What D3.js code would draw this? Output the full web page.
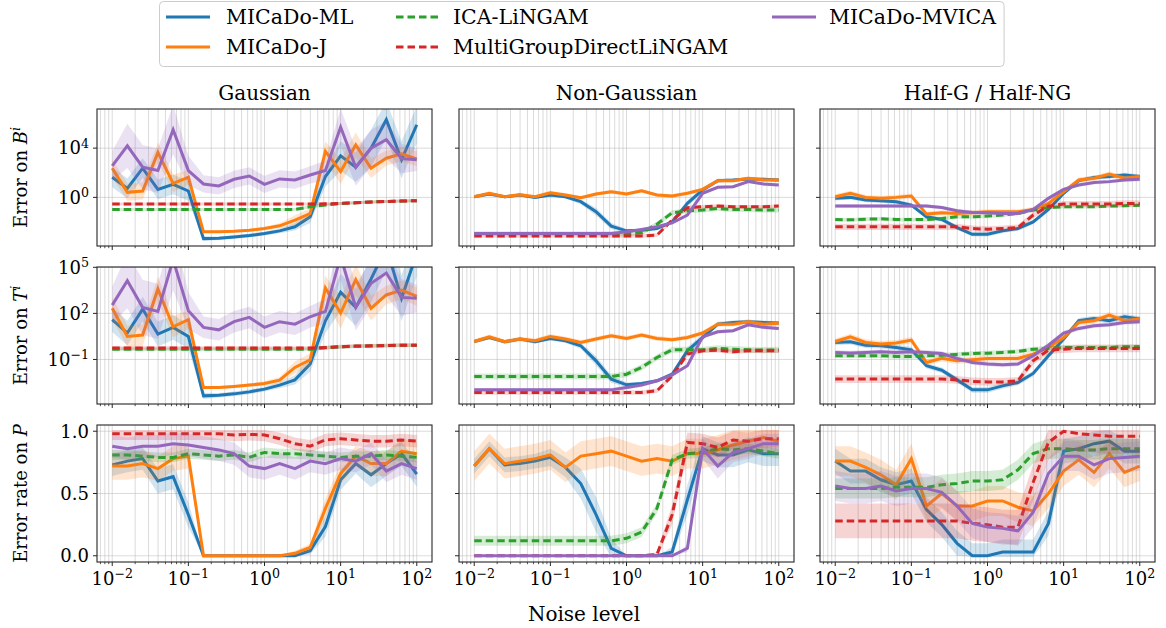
<!DOCTYPE html>
<html lang="en">
<head>
<meta charset="utf-8">
<title>Noise level sweep</title>
<script src="https://cdn.jsdelivr.net/npm/d3@7"></script>
<style>
  body { margin: 0; background: #fff; }
  svg { font-family: "DejaVu Serif", serif; }
</style>
</head>
<body>
<svg width="1166" height="628"></svg>
<script>
// noise levels (x), 21 points log-spaced from 1e-2 to 1e2
const noise = [0.01, 0.0158, 0.0251, 0.0398, 0.0631, 0.1, 0.158, 0.251, 0.398, 0.631, 1,
               1.58, 2.51, 3.98, 6.31, 10, 15.8, 25.1, 39.8, 63.1, 100];

const seriesKeys = ['ml', 'j', 'ica', 'mg', 'mvica'];
const seriesNames = ['MICaDo-ML', 'MICaDo-J', 'ICA-LiNGAM', 'MultiGroupDirectLiNGAM', 'MICaDo-MVICA'];
const colTitles = ['Gaussian', 'Non-Gaussian', 'Half-G / Half-NG'];

// ---- row 1 : error on B^i (log10 values) ----
const gaussB_ml = [1.63, 0.73, 2.37, 0.65, 1.06, 0.52, -3.35, -3.32, -3.21, -3.10, -2.94, -2.72, -2.39, -1.58, 1.69, 3.37, 2.45, 4.0, 6.31, 3.05, 5.9];
const gaussB_j = [2.37, 0.41, 0.52, 3.65, 1.14, 1.63, -2.80, -2.80, -2.75, -2.67, -2.53, -2.31, -1.85, -1.31, 3.73, 2.10, 4.27, 2.37, 3.18, 3.54, 3.13];
const gaussB_ica = [-0.98, -0.98, -0.98, -0.98, -0.98, -0.98, -0.98, -0.98, -0.98, -0.98, -0.98, -0.98, -0.98, -0.76, -0.62, -0.50, -0.44, -0.38, -0.33, -0.30, -0.27];
const gaussB_mg = [-0.54, -0.54, -0.54, -0.54, -0.54, -0.54, -0.54, -0.54, -0.54, -0.54, -0.54, -0.54, -0.54, -0.54, -0.52, -0.49, -0.44, -0.38, -0.33, -0.30, -0.27];
const gaussB_mvica = [2.56, 4.19, 2.45, 2.18, 5.50, 2.18, 1.09, 0.93, 1.47, 1.74, 1.06, 1.50, 1.41, 1.82, 2.18, 5.71, 2.45, 4.0, 4.68, 3.16, 3.05];

const ngB_ml = [0.05, 0.27, 0.05, 0.19, 0.0, 0.19, 0.05, -0.35, -1.17, -2.34, -2.72, -2.67, -2.53, -1.99, -0.49, 0.6, 1.36, 1.41, 1.50, 1.47, 1.41];
const ngB_j = [0.05, 0.33, 0.05, 0.22, 0.05, 0.38, 0.19, -0.03, 0.27, 0.46, 0.27, 0.54, 0.19, 0.11, 0.33, 0.65, 1.36, 1.36, 1.55, 1.41, 1.41];
const ngB_ica = [-2.96, -2.96, -2.96, -2.96, -2.96, -2.96, -2.96, -2.96, -2.96, -2.96, -2.96, -2.88, -2.18, -1.25, -1.09, -1.03, -0.90, -0.98, -0.98, -1.03, -1.03];
const ngB_mg = [-3.13, -3.13, -3.13, -3.13, -3.13, -3.13, -3.13, -3.13, -3.13, -3.13, -3.13, -3.13, -3.07, -1.85, -0.84, -0.76, -0.71, -0.76, -0.76, -0.76, -0.71];
const ngB_mvica = [-2.94, -2.94, -2.94, -2.94, -2.94, -2.94, -2.94, -2.94, -2.94, -2.94, -2.80, -2.61, -2.39, -2.07, -1.44, 0.33, 0.82, 0.87, 1.28, 1.09, 1.01];

const hgB_ml = [-0.08, 0, -0.22, -0.27, -0.35, -0.63, -1.58, -1.80, -2.45, -3.0, -3.0, -2.72, -2.53, -1.99, -0.98, 0.33, 1.36, 1.61, 1.69, 1.82, 1.69];
const hgB_j = [0.05, 0.33, 0, -0.08, 0, 0.11, -1.36, -1.25, -1.31, -1.25, -1.17, -1.17, -1.17, -0.98, -0.49, 0.46, 1.41, 1.55, 1.90, 1.55, 1.69];
const hgB_ica = [-1.80, -1.82, -1.77, -1.74, -1.80, -1.80, -1.80, -1.71, -1.58, -1.58, -1.52, -1.44, -1.31, -1.03, -0.82, -0.76, -0.76, -0.76, -0.71, -0.68, -0.63];
const hgB_mg = [-2.39, -2.39, -2.39, -2.39, -2.39, -2.39, -2.39, -2.39, -2.39, -2.53, -2.59, -2.53, -2.45, -1.44, -0.71, -0.54, -0.54, -0.54, -0.54, -0.49, -0.49];
const hgB_mvica = [-0.71, -0.71, -0.71, -0.71, -0.71, -0.71, -0.71, -0.82, -1.09, -1.22, -1.25, -1.31, -1.31, -0.98, -0.08, 0.65, 1.01, 1.20, 1.28, 1.41, 1.47];

// ---- row 2 : error on T^i (log10 values) ----
const gaussT_ml = [1.59, 0.72, 2.28, 0.65, 1.09, 0.5, -3.37, -3.33, -3.24, -3.11, -2.93, -2.67, -2.33, -1.30, 1.52, 3.37, 2.39, 4.24, 6.3, 2.98, 5.9];
const gaussT_j = [2.33, 0.5, 0.59, 3.59, 1.13, 1.59, -2.83, -2.83, -2.76, -2.67, -2.57, -2.35, -1.52, -1.02, 3.65, 2.02, 4.2, 2.33, 3.2, 3.52, 3.1];
const gaussT_ica = [-0.33, -0.33, -0.33, -0.33, -0.33, -0.33, -0.33, -0.33, -0.33, -0.33, -0.33, -0.33, -0.33, -0.33, -0.24, -0.18, -0.14, -0.12, -0.10, -0.08, -0.08];
const gaussT_mg = [-0.26, -0.26, -0.26, -0.26, -0.26, -0.26, -0.26, -0.26, -0.26, -0.26, -0.26, -0.26, -0.26, -0.26, -0.22, -0.17, -0.13, -0.11, -0.09, -0.07, -0.07];
const gaussT_mvica = [2.54, 4.13, 2.39, 2.13, 5.5, 2.17, 1.09, 0.93, 1.46, 1.74, 1.09, 1.46, 1.30, 1.78, 2.13, 5.7, 2.39, 3.96, 4.63, 3.04, 2.98];

const ngT_ml = [0.17, 0.43, 0.15, 0.33, 0.15, 0.37, 0.22, -0.11, -1.09, -2.28, -2.65, -2.57, -2.39, -1.96, -0.43, 0.43, 1.30, 1.41, 1.46, 1.41, 1.37];
const ngT_j = [0.17, 0.48, 0.15, 0.33, 0.22, 0.5, 0.33, 0.11, 0.33, 0.54, 0.37, 0.59, 0.37, 0.28, 0.43, 0.72, 1.30, 1.30, 1.46, 1.30, 1.35];
const ngT_ica = [-2.11, -2.11, -2.11, -2.11, -2.11, -2.11, -2.11, -2.11, -2.11, -2.11, -1.96, -1.52, -0.87, -0.37, -0.37, -0.37, -0.28, -0.33, -0.37, -0.39, -0.37];
const ngT_mg = [-3.15, -3.15, -3.15, -3.15, -3.15, -3.15, -3.15, -3.15, -3.15, -3.15, -3.15, -3.15, -3.04, -2.07, -0.65, -0.43, -0.39, -0.5, -0.43, -0.43, -0.43];
const ngT_mvica = [-2.98, -2.98, -2.98, -2.98, -2.98, -2.98, -2.98, -2.98, -2.98, -2.98, -2.83, -2.67, -2.39, -2.0, -1.41, 0.48, 0.80, 0.87, 1.26, 1.09, 1.02];

const hgT_ml = [0.11, 0.15, -0.07, -0.11, -0.22, -0.37, -1.41, -1.70, -2.33, -2.98, -2.98, -2.72, -2.5, -1.91, -0.76, 0.33, 1.52, 1.67, 1.52, 1.78, 1.63];
const hgT_j = [0.17, 0.48, 0.11, 0.0, 0.07, 0.26, -1.20, -0.93, -1.09, -1.02, -0.93, -0.93, -0.93, -0.65, -0.22, 0.43, 1.41, 1.52, 1.89, 1.52, 1.63];
const hgT_ica = [-0.76, -0.76, -0.76, -0.76, -0.80, -0.80, -0.76, -0.72, -0.67, -0.61, -0.59, -0.54, -0.48, -0.33, -0.28, -0.22, -0.22, -0.22, -0.22, -0.17, -0.17];
const hgT_mg = [-2.28, -2.28, -2.28, -2.28, -2.28, -2.28, -2.28, -2.28, -2.33, -2.43, -2.46, -2.46, -2.39, -1.09, -0.39, -0.33, -0.28, -0.28, -0.28, -0.28, -0.28];
const hgT_mvica = [-0.54, -0.58, -0.54, -0.5, -0.54, -0.5, -0.54, -0.61, -0.93, -1.20, -1.30, -1.35, -1.30, -0.76, -0.07, 0.72, 1.02, 1.20, 1.26, 1.41, 1.46];

// ---- row 3 : error rate on P ----
const gaussP_ml = [0.73, 0.76, 0.78, 0.60, 0.635, 0.33, 0, 0, 0, 0, 0, 0, 0, 0.04, 0.235, 0.61, 0.74, 0.65, 0.74, 0.82, 0.655];
const gaussP_j = [0.72, 0.72, 0.74, 0.70, 0.78, 0.80, 0, 0, 0, 0, 0, 0, 0.02, 0.067, 0.38, 0.66, 0.80, 0.74, 0.74, 0.84, 0.82];
const gaussP_ica = [0.81, 0.81, 0.80, 0.79, 0.79, 0.82, 0.81, 0.80, 0.81, 0.79, 0.83, 0.82, 0.82, 0.81, 0.80, 0.79, 0.80, 0.80, 0.81, 0.80, 0.79];
const gaussP_mg = [0.98, 0.98, 0.98, 0.98, 0.98, 0.98, 0.98, 0.98, 0.97, 0.975, 0.97, 0.94, 0.90, 0.88, 0.93, 0.94, 0.93, 0.92, 0.92, 0.93, 0.92];
const gaussP_mvica = [0.88, 0.86, 0.88, 0.88, 0.90, 0.89, 0.87, 0.85, 0.82, 0.72, 0.70, 0.74, 0.70, 0.76, 0.74, 0.78, 0.76, 0.82, 0.68, 0.74, 0.70];

const ngP_ml = [0.72, 0.86, 0.73, 0.74, 0.76, 0.79, 0.71, 0.58, 0.33, 0.06, 0, 0, 0, 0.03, 0.45, 0.86, 0.81, 0.81, 0.85, 0.82, 0.82];
const ngP_j = [0.72, 0.86, 0.74, 0.76, 0.78, 0.81, 0.71, 0.80, 0.82, 0.84, 0.80, 0.76, 0.78, 0.76, 0.82, 0.82, 0.85, 0.89, 0.92, 0.95, 0.92];
const ngP_ica = [0.12, 0.12, 0.12, 0.12, 0.12, 0.12, 0.12, 0.12, 0.12, 0.12, 0.14, 0.19, 0.38, 0.77, 0.82, 0.83, 0.86, 0.85, 0.86, 0.84, 0.82];
const ngP_mg = [0, 0, 0, 0, 0, 0, 0, 0, 0, 0, 0, 0, 0.01, 0.33, 0.91, 0.90, 0.87, 0.93, 0.92, 0.94, 0.94];
const ngP_mvica = [0, 0, 0, 0, 0, 0, 0, 0, 0, 0, 0, 0, 0, 0, 0.06, 0.86, 0.72, 0.83, 0.86, 0.90, 0.90];

const hgP_ml = [0.76, 0.68, 0.68, 0.61, 0.57, 0.60, 0.37, 0.25, 0.10, 0, 0, 0.03, 0.03, 0.03, 0.26, 0.84, 0.86, 0.90, 0.92, 0.84, 0.84];
const hgP_j = [0.76, 0.76, 0.71, 0.65, 0.57, 0.78, 0.40, 0.50, 0.40, 0.40, 0.44, 0.44, 0.39, 0.36, 0.50, 0.68, 0.77, 0.67, 0.82, 0.67, 0.72];
const hgP_ica = [0.54, 0.54, 0.54, 0.54, 0.55, 0.55, 0.55, 0.57, 0.58, 0.60, 0.60, 0.61, 0.69, 0.82, 0.86, 0.86, 0.85, 0.85, 0.86, 0.86, 0.86];
const hgP_mg = [0.28, 0.28, 0.28, 0.28, 0.28, 0.28, 0.28, 0.28, 0.28, 0.26, 0.25, 0.23, 0.23, 0.59, 0.91, 1.0, 0.98, 0.97, 0.96, 0.96, 0.96];
const hgP_mvica = [0.56, 0.54, 0.54, 0.56, 0.52, 0.54, 0.54, 0.51, 0.40, 0.26, 0.23, 0.22, 0.20, 0.35, 0.66, 0.80, 0.80, 0.73, 0.78, 0.79, 0.80];

// ---- shaded band half-widths (log10 decades for rows 1-2, absolute for row 3) ----
const gaussSpreadLog = {
  ml: [0.8, 0.8, 0.8, 0.8, 0.8, 0.8, 0.2, 0.15, 0.15, 0.15, 0.15, 0.2, 0.3, 0.5, 0.8, 1.2, 1.2, 1.5, 1.5, 1.5, 1.5],
  j: [0.7, 0.7, 0.7, 0.8, 0.7, 0.6, 0.1, 0.1, 0.1, 0.1, 0.15, 0.2, 0.4, 0.4, 0.8, 1.0, 1.0, 0.8, 0.6, 0.6, 0.6],
  ica: 0.12, mg: 0.12,
  mvica: [1.2, 1.8, 1.8, 1.8, 2.0, 1.2, 0.7, 0.7, 0.7, 0.7, 0.7, 0.7, 0.7, 0.7, 0.8, 1.5, 1.5, 1.5, 1.5, 1.2, 0.9]
};
const ngSpreadLog = {
  ml: [0.12, 0.12, 0.12, 0.12, 0.12, 0.12, 0.15, 0.2, 0.3, 0.25, 0.15, 0.12, 0.12, 0.15, 0.25, 0.2, 0.15, 0.12, 0.12, 0.12, 0.12],
  j: 0.15, ica: 0.2, mg: 0.15, mvica: 0.12
};
const hgSpreadLog = { ml: 0.18, j: 0.2, ica: 0.15, mg: 0.25, mvica: 0.15 };

const gaussSpreadP = {
  ml: [0.09, 0.09, 0.09, 0.1, 0.1, 0.1, 0, 0, 0, 0, 0, 0, 0, 0.03, 0.08, 0.08, 0.08, 0.1, 0.1, 0.1, 0.1],
  j: [0.11, 0.11, 0.11, 0.1, 0.1, 0.1, 0, 0, 0, 0, 0, 0, 0.02, 0.03, 0.08, 0.08, 0.08, 0.1, 0.1, 0.1, 0.1],
  ica: 0.04, mg: 0.05, mvica: 0.09
};
const ngSpreadP = {
  ml: [0.06, 0.06, 0.06, 0.06, 0.06, 0.07, 0.08, 0.12, 0.14, 0.08, 0, 0, 0, 0.04, 0.12, 0.1, 0.1, 0.1, 0.1, 0.1, 0.1],
  j: 0.12, ica: 0.04,
  mg: [0, 0, 0, 0, 0, 0, 0, 0, 0, 0, 0, 0, 0.02, 0.08, 0.08, 0.08, 0.08, 0.07, 0.07, 0.07, 0.07],
  mvica: [0, 0, 0, 0, 0, 0, 0, 0, 0, 0, 0, 0, 0, 0, 0.03, 0.08, 0.1, 0.08, 0.08, 0.08, 0.08]
};
const hgSpreadP = { ml: 0.1, j: 0.12, ica: 0.08, mg: 0.14, mvica: 0.12 };

// grid of panels [row][col]
const panelData = [
  [
    { ml: gaussB_ml, j: gaussB_j, ica: gaussB_ica, mg: gaussB_mg, mvica: gaussB_mvica, spread: gaussSpreadLog },
    { ml: ngB_ml, j: ngB_j, ica: ngB_ica, mg: ngB_mg, mvica: ngB_mvica, spread: ngSpreadLog },
    { ml: hgB_ml, j: hgB_j, ica: hgB_ica, mg: hgB_mg, mvica: hgB_mvica, spread: hgSpreadLog }
  ],
  [
    { ml: gaussT_ml, j: gaussT_j, ica: gaussT_ica, mg: gaussT_mg, mvica: gaussT_mvica, spread: gaussSpreadLog },
    { ml: ngT_ml, j: ngT_j, ica: ngT_ica, mg: ngT_mg, mvica: ngT_mvica, spread: ngSpreadLog },
    { ml: hgT_ml, j: hgT_j, ica: hgT_ica, mg: hgT_mg, mvica: hgT_mvica, spread: hgSpreadLog }
  ],
  [
    { ml: gaussP_ml, j: gaussP_j, ica: gaussP_ica, mg: gaussP_mg, mvica: gaussP_mvica, spread: gaussSpreadP },
    { ml: ngP_ml, j: ngP_j, ica: ngP_ica, mg: ngP_mg, mvica: ngP_mvica, spread: ngSpreadP },
    { ml: hgP_ml, j: hgP_j, ica: hgP_ica, mg: hgP_mg, mvica: hgP_mvica, spread: hgSpreadP }
  ]
];

const rowTicksLog = [[0, 4], [-1, 2, 5], null];
const rowTicksLin = [0, 0.5, 1.0];

// ---- layout / style ----
const colors = { ml: '#1f77b4', j: '#ff7f0e', ica: '#2ca02c', mg: '#d62728', mvica: '#9467bd' };
const dashed = { ica: true, mg: true };
const colX = [97, 459, 820];
const rowY = [109, 267, 425];
const pw = 335, ph = 137;
const yDomLog = [[-3.95, 7.18], [-3.9, 5.02]];

const svg = d3.select('svg');

const x = d3.scaleLog().domain([Math.pow(10, -2.2), Math.pow(10, 2.2)]).range([0, pw]);
const xMajor = [0.01, 0.1, 1, 10, 100];
const xMinor = [];
for (let k = -3; k <= 2; k++) {
  for (let m = 2; m <= 9; m++) {
    const v = m * Math.pow(10, k);
    if (v > x.domain()[0] && v < x.domain()[1]) xMinor.push(v);
  }
}

function addPow(sel, base, exp) {
  sel.append('tspan').text(base);
  sel.append('tspan').attr('font-size', '0.7em').attr('dy', '-0.55em')
    .text(String(exp).replace('-', '\u2212'));
}

const defs = svg.append('defs');

panelData.forEach((rowPanels, r) => {
  const isLog = r < 2;
  const y = isLog
    ? d3.scaleLog().domain(yDomLog[r].map(e => Math.pow(10, e))).range([ph, 0])
    : d3.scaleLinear().domain([-0.05, 1.05]).range([ph, 0]);
  const toVal = v => isLog ? Math.pow(10, v) : v;

  rowPanels.forEach((pd, c) => {
    const g = svg.append('g').attr('transform', `translate(${colX[c]},${rowY[r]})`);
    const clipId = `clip-${r}-${c}`;
    defs.append('clipPath').attr('id', clipId)
      .append('rect').attr('width', pw).attr('height', ph);

    // grid
    const grid = g.append('g');
    grid.selectAll('.gx').data(xMajor.concat(xMinor)).enter().append('line')
      .attr('x1', d => x(d)).attr('x2', d => x(d))
      .attr('y1', 0).attr('y2', ph)
      .attr('stroke', '#b0b0b0').attr('stroke-opacity', 0.45).attr('stroke-width', 1);
    const yTickVals = isLog ? rowTicksLog[r].map(e => Math.pow(10, e)) : rowTicksLin;
    grid.selectAll('.gy').data(yTickVals).enter().append('line')
      .attr('x1', 0).attr('x2', pw)
      .attr('y1', d => y(d)).attr('y2', d => y(d))
      .attr('stroke', '#b0b0b0').attr('stroke-opacity', 0.45).attr('stroke-width', 1);

    const plot = g.append('g').attr('clip-path', `url(#${clipId})`);

    seriesKeys.forEach(key => {
      const vals = pd[key];
      const sp = pd.spread[key];
      const pts = vals.map((v, i) => {
        const s = Array.isArray(sp) ? sp[i] : sp;
        let lo = v - s, hi = v + s;
        if (!isLog) { lo = Math.max(lo, -0.01); hi = Math.min(hi, 1.01); }
        return { x: noise[i], y: toVal(v), lo: toVal(lo), hi: toVal(hi) };
      });
      plot.append('path').datum(pts)
        .attr('d', d3.area().x(d => x(d.x)).y0(d => y(d.lo)).y1(d => y(d.hi)))
        .attr('fill', colors[key]).attr('fill-opacity', 0.2).attr('stroke', 'none');
      plot.append('path').datum(pts)
        .attr('d', d3.line().x(d => x(d.x)).y(d => y(d.y)))
        .attr('fill', 'none').attr('stroke', colors[key]).attr('stroke-width', 3)
        .attr('stroke-dasharray', dashed[key] ? '7.5,4' : null);
    });

    // spines
    g.append('rect').attr('width', pw).attr('height', ph)
      .attr('fill', 'none').attr('stroke', '#262626').attr('stroke-width', 1.1);

    // x ticks
    g.selectAll('.xt').data(xMajor).enter().append('line')
      .attr('x1', d => x(d)).attr('x2', d => x(d)).attr('y1', ph).attr('y2', ph + 4)
      .attr('stroke', '#262626').attr('stroke-width', 1);
    g.selectAll('.xm').data(xMinor).enter().append('line')
      .attr('x1', d => x(d)).attr('x2', d => x(d)).attr('y1', ph).attr('y2', ph + 2.2)
      .attr('stroke', '#262626').attr('stroke-width', 0.8);
    // y ticks
    g.selectAll('.yt').data(yTickVals).enter().append('line')
      .attr('x1', -4).attr('x2', 0).attr('y1', d => y(d)).attr('y2', d => y(d))
      .attr('stroke', '#262626').attr('stroke-width', 1);

    if (c === 0) {
      yTickVals.forEach((v, i) => {
        const t = g.append('text').attr('x', -8).attr('y', y(v)).attr('dy', '0.35em')
          .attr('text-anchor', 'end').attr('font-size', 18).attr('fill', '#000');
        if (isLog) addPow(t, '10', rowTicksLog[r][i]);
        else t.text(d3.format('.1f')(v));
      });
    }
    if (r === 2) {
      xMajor.forEach(v => {
        const t = g.append('text').attr('x', x(v)).attr('y', ph + 23)
          .attr('text-anchor', 'middle').attr('font-size', 18).attr('fill', '#000');
        addPow(t, '10', Math.round(Math.log10(v)));
      });
    }
    if (r === 0) {
      g.append('text').attr('x', pw / 2).attr('y', -9).attr('text-anchor', 'middle')
        .attr('font-size', 20).attr('fill', '#000').text(colTitles[c]);
    }
  });
});

// y labels
const yLabels = [['Error on ', 'B', 'i'], ['Error on ', 'T', 'i'], ['Error rate on ', 'P', null]];
yLabels.forEach((lab, r) => {
  const t = svg.append('text')
    .attr('transform', `translate(27,${rowY[r] + ph / 2}) rotate(-90)`)
    .attr('text-anchor', 'middle').attr('font-size', 18).attr('fill', '#000');
  t.append('tspan').text(lab[0]);
  t.append('tspan').attr('font-style', 'italic').text(lab[1]);
  if (lab[2]) t.append('tspan').attr('font-style', 'italic').attr('font-size', '0.7em').attr('dy', '-0.55em').text(lab[2]);
});

// x label
svg.append('text').attr('x', 584).attr('y', 621).attr('text-anchor', 'middle')
  .attr('font-size', 20).attr('fill', '#000').text('Noise level');

// legend
const legend = svg.append('g');
const legBox = legend.append('rect').attr('x', 159.5).attr('y', 1.5).attr('height', 65)
  .attr('rx', 4).attr('fill', '#fff').attr('stroke', '#cccccc').attr('stroke-width', 1);
const legPos = [
  { lx: 166, tx: 226, y: 17 },
  { lx: 166, tx: 226, y: 47 },
  { lx: 396, tx: 453, y: 17 },
  { lx: 396, tx: 453, y: 47 },
  { lx: 772, tx: 829, y: 17 }
];
let legRight = 0;
seriesKeys.forEach((key, i) => {
  const p = legPos[i];
  legend.append('line').attr('x1', p.lx).attr('x2', p.lx + 44).attr('y1', p.y).attr('y2', p.y)
    .attr('stroke', colors[key]).attr('stroke-width', 3)
    .attr('stroke-dasharray', dashed[key] ? '7.5,4' : null);
  const t = legend.append('text').attr('x', p.tx).attr('y', p.y).attr('dy', '0.35em')
    .attr('font-size', 20.5).attr('fill', '#000').text(seriesNames[i]);
  legRight = Math.max(legRight, p.tx + t.node().getComputedTextLength());
});
legBox.attr('width', legRight + 8 - 159.5);
</script>
</body>
</html>
